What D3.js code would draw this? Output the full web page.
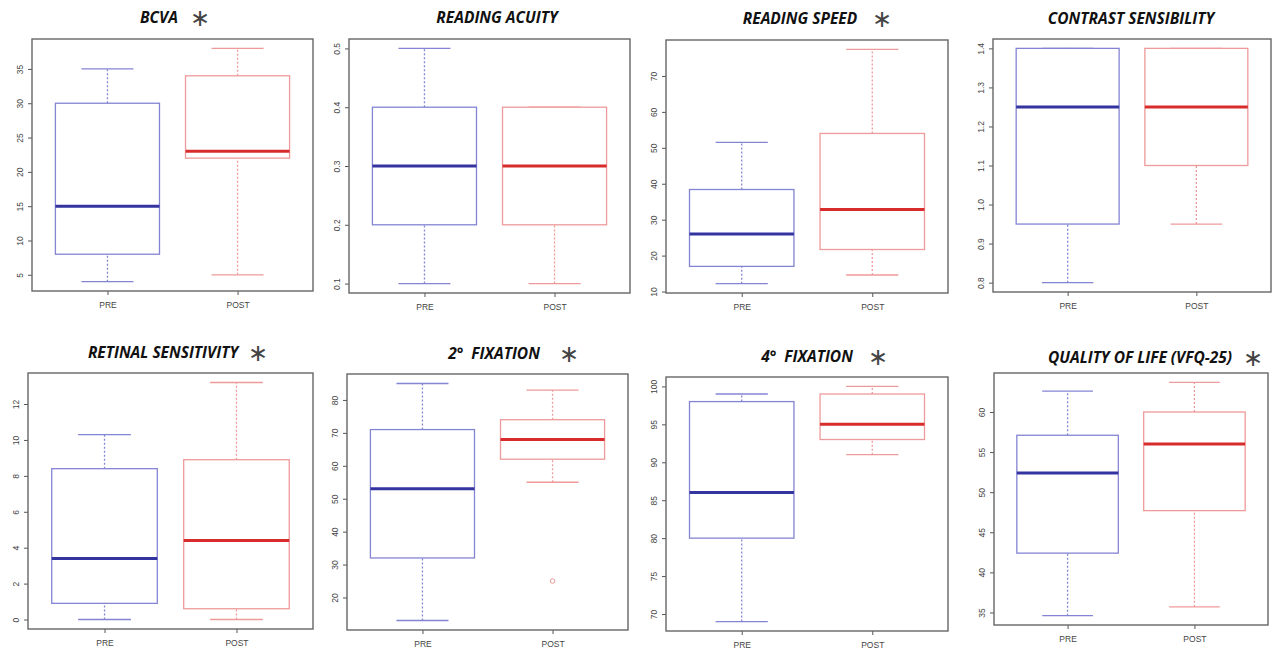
<!DOCTYPE html>
<html>
<head>
<meta charset="utf-8">
<script src="https://cdn.jsdelivr.net/npm/d3@7"></script>
<style>
  body { margin: 0; background: #fff; }
  .title { font-family: "Open Sans", sans-serif; font-weight: 700; font-style: italic; font-size: 15.5px; fill: #111; }
  .star { font-family: "DejaVu Sans", sans-serif; font-size: 24px; fill: #444; }
  .tick { font-family: "Liberation Sans", Arial, sans-serif; font-size: 8.5px; fill: #444; }
</style>
</head>
<body>
<svg id="chart" width="1277" height="652"></svg>
<script>
// panel titles and significance marks
var titles = ["BCVA", "READING ACUITY", "READING SPEED", "CONTRAST SENSIBILITY",
              "RETINAL SENSITIVITY", "2\u00B0  FIXATION", "4\u00B0  FIXATION", "QUALITY OF LIFE (VFQ-25)"];
var starred = [true, false, true, false, true, true, true, true];
var groups = ["PRE", "POST"];

// five number summaries: [min, q1, median, q3, max]
var preStats = [
  [4, 8, 15, 30, 35],
  [0.1, 0.2, 0.3, 0.4, 0.5],
  [12.2, 17, 26, 38.4, 51.5],
  [0.8, 0.95, 1.25, 1.4, 1.4],
  [0, 0.9, 3.4, 8.4, 10.3],
  [13, 32, 53, 71, 85],
  [69, 80, 86, 98, 99],
  [34.6, 42.4, 52.4, 57.1, 62.6]
];
var postStats = [
  [5, 22, 23, 34, 38],
  [0.1, 0.2, 0.3, 0.4, 0.4],
  [14.6, 21.7, 32.8, 54, 77.4],
  [0.95, 1.1, 1.25, 1.4, 1.4],
  [0, 0.6, 4.4, 8.9, 13.2],
  [55, 62, 68, 74, 83],
  [91, 93, 95, 99, 100],
  [35.7, 47.7, 56, 60, 63.7]
];
var preOutliers  = [[], [], [], [], [], [], [], []];
var postOutliers = [[], [], [], [], [], [25], [], []];

var yTicks = [
  [5, 10, 15, 20, 25, 30, 35],
  [0.1, 0.2, 0.3, 0.4, 0.5],
  [10, 20, 30, 40, 50, 60, 70],
  [0.8, 0.9, 1.0, 1.1, 1.2, 1.3, 1.4],
  [0, 2, 4, 6, 8, 10, 12],
  [20, 30, 40, 50, 60, 70, 80],
  [70, 75, 80, 85, 90, 95, 100],
  [35, 40, 45, 50, 55, 60]
];
var tickFormats = ["d", ".1f", "d", ".1f", "d", "d", "d", "d"];

// layout: plot frame [x0, y0, x1, y1] and title [centre x, baseline, star x]
var frames = [
  [32, 39, 313, 291], [349, 39, 630, 293], [666, 40, 948, 293], [993, 39, 1271, 292],
  [28, 373, 313, 629], [347, 374, 628, 630], [666, 377, 948, 631], [994, 373, 1268, 625]
];
var titlePos = [
  [159, 23, 200], [497, 23, 0], [800, 24, 882], [1131, 24, 0],
  [163, 358, 258], [494, 359, 569], [807, 362, 878], [1140, 363, 1253]
];

var colors = {
  PRE:  { box: "#8484d4", med: "#3434a0" },
  POST: { box: "#ef9a9a", med: "#d82c2c" }
};

var svg = d3.select("#chart");

titles.forEach(function(t, i) {
  var f = frames[i];
  var g = svg.append("g");

  // R style range: data extent padded 4% each side
  var all = preStats[i].concat(postStats[i], preOutliers[i], postOutliers[i]);
  var lo = d3.min(all), hi = d3.max(all), pad = (hi - lo) * 0.04;
  var y = d3.scaleLinear().domain([lo - pad, hi + pad]).range([f[3], f[1]]);
  var x = d3.scaleLinear().domain([0.42, 2.58]).range([f[0], f[2]]);

  // title
  g.append("text").attr("class", "title")
    .attr("x", titlePos[i][0]).attr("y", titlePos[i][1])
    .attr("text-anchor", "middle")
    .style("white-space", "pre")
    .text(t);
  if (starred[i]) {
    g.append("text").attr("class", "star")
      .attr("x", titlePos[i][2]).attr("y", titlePos[i][1] + 3)
      .attr("text-anchor", "middle")
      .text("\u2217");
  }

  // y axis
  var yAxis = g.append("g").attr("transform", "translate(" + f[0] + ",0)")
    .call(d3.axisLeft(y).tickValues(yTicks[i]).tickSize(4).tickFormat(d3.format(tickFormats[i])));
  yAxis.select(".domain").remove();
  yAxis.selectAll("line").attr("stroke", "#555");
  yAxis.selectAll("text").attr("class", "tick")
    .attr("transform", "translate(-12,0) rotate(-90)")
    .attr("x", 0).attr("y", 0).attr("dy", "0.35em")
    .attr("text-anchor", "middle");

  // x axis
  var xAxis = g.append("g").attr("transform", "translate(0," + f[3] + ")")
    .call(d3.axisBottom(x).tickValues([1, 2]).tickSize(4)
      .tickFormat(function(d) { return groups[d - 1]; }));
  xAxis.select(".domain").remove();
  xAxis.selectAll("line").attr("stroke", "#555");
  xAxis.selectAll("text").attr("class", "tick").attr("y", 11).attr("dy", "0.71em");

  // boxes
  [preStats[i], postStats[i]].forEach(function(s, k) {
    var c = colors[groups[k]];
    var cx = x(k + 1);
    var hw = x(k + 1.4) - cx, cw = hw / 2;
    var bg = g.append("g");
    // whiskers
    bg.append("line").attr("x1", cx).attr("x2", cx).attr("y1", y(s[0])).attr("y2", y(s[1]))
      .attr("stroke", c.box).attr("stroke-width", 1.3).attr("stroke-dasharray", "2,2");
    bg.append("line").attr("x1", cx).attr("x2", cx).attr("y1", y(s[3])).attr("y2", y(s[4]))
      .attr("stroke", c.box).attr("stroke-width", 1.3).attr("stroke-dasharray", "2,2");
    // caps
    [s[0], s[4]].forEach(function(v) {
      bg.append("line").attr("x1", cx - cw).attr("x2", cx + cw).attr("y1", y(v)).attr("y2", y(v))
        .attr("stroke", c.box).attr("stroke-width", 1.3);
    });
    // box
    bg.append("rect").attr("x", cx - hw).attr("y", y(s[3]))
      .attr("width", 2 * hw).attr("height", y(s[1]) - y(s[3]))
      .attr("fill", "#fff").attr("stroke", c.box).attr("stroke-width", 1.3);
    // median
    bg.append("line").attr("x1", cx - hw).attr("x2", cx + hw).attr("y1", y(s[2])).attr("y2", y(s[2]))
      .attr("stroke", c.med).attr("stroke-width", 3);
    // outliers
    var outs = k === 0 ? preOutliers[i] : postOutliers[i];
    bg.selectAll("circle").data(outs).enter().append("circle")
      .attr("cx", cx).attr("cy", function(d) { return y(d); }).attr("r", 2.3)
      .attr("fill", "none").attr("stroke", c.box).attr("stroke-width", 1);
  });

  // frame
  g.append("rect").attr("x", f[0]).attr("y", f[1])
    .attr("width", f[2] - f[0]).attr("height", f[3] - f[1])
    .attr("fill", "none").attr("stroke", "#666").attr("stroke-width", 1.4);
});
</script>
</body>
</html>
